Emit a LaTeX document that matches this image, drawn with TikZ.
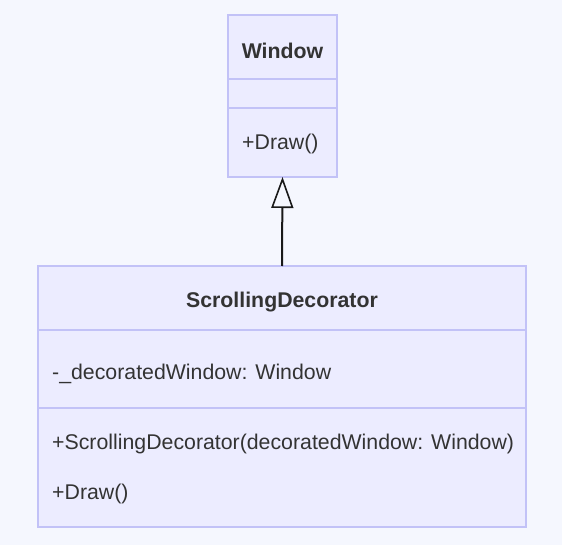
\documentclass[tikz,border=0pt]{standalone}
\usepackage{fontspec}
\setmainfont{Liberation Sans}
\usetikzlibrary{arrows.meta}
\definecolor{bg}{HTML}{F5F7FE}
\definecolor{boxfill}{HTML}{ECECFF}
\definecolor{boxline}{HTML}{C2C2F7}
\definecolor{txt}{HTML}{333333}
\tikzset{
  classbox/.style={draw=boxline, fill=boxfill, line width=1.4pt, inner sep=0pt, outer sep=0pt},
  divider/.style={draw=boxline, line width=1.4pt},
  title/.style={font=\fontsize{21.3}{24}\selectfont\bfseries, text=txt, inner sep=0pt},
  member/.style={font=\fontsize{21.3}{24}\selectfont, text=txt, inner sep=0pt, anchor=west},
  inherit/.style={line width=2pt, draw=black!90, -{Triangle[open, length=31pt, width=22pt, line width=1.6pt]}}
}
\begin{document}
\begin{tikzpicture}[x=1pt, y=-1pt]
\fill[bg] (0,0) rectangle (562,545);
\useasboundingbox (0,0) rectangle (562,545);
% Window
\node[classbox, minimum width=109pt, minimum height=162pt] (win) at (282.5,96) {};
\draw[divider] (228,79) -- (337,79);
\draw[divider] (228,108) -- (337,108);
\node[title] (wint) at (282.5,51) {Window};
\node[member] (wdraw) at (242,144) {+Draw()};
% ScrollingDecorator
\node[classbox, minimum width=488pt, minimum height=261pt] (sd) at (282,396.5) {};
\draw[divider] (38,330) -- (526,330);
\draw[divider] (38,408) -- (526,408);
\node[title] (sdt) at (282,302) {ScrollingDecorator};
\node[member] (sdf) at (52,374) {-\_decoratedWindow: Window};
\node[member] (sdc) at (52,444) {+ScrollingDecorator(decoratedWindow: Window)};
\node[member] (sdd) at (52,494) {+Draw()};
% inheritance
\draw[inherit] (sd.north) -- (win.south);
\end{tikzpicture}
\end{document}
